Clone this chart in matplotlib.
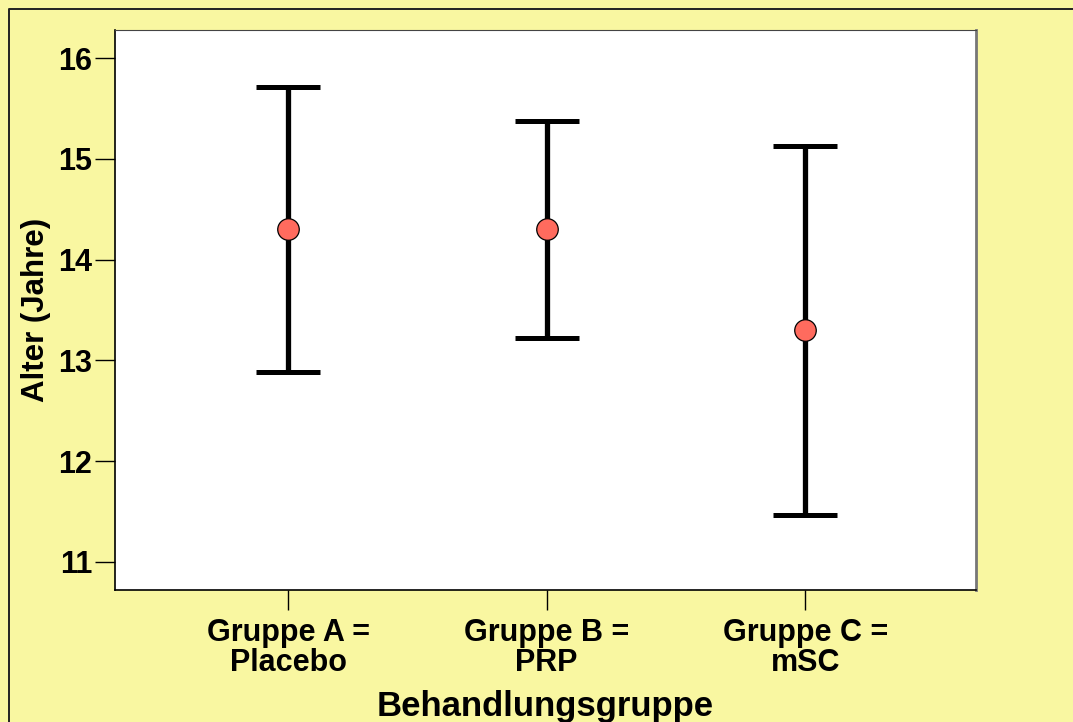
import matplotlib
matplotlib.use('Agg')
from matplotlib import pyplot as plt
from matplotlib.lines import Line2D

# data
groups = ['Gruppe A =\nPlacebo', 'Gruppe B =\nPRP', 'Gruppe C =\nmSC']
means = [14.30, 14.30, 13.30]
upper = [15.71, 15.375, 15.13]
lower = [12.885, 13.22, 11.46]

plt.rcParams['font.family'] = ['Liberation Sans', 'DejaVu Sans']
plt.rcParams['font.weight'] = 'bold'

bg = '#F9F7A1'
fig = plt.figure(figsize=(10.73, 7.22), dpi=100, facecolor=bg)
ax = fig.add_axes([115/1073, 1 - 590/722, (976-115)/1073, (590-30)/722])
ax.set_facecolor('white')

x = [1, 2, 3]
yerr = [[m - l for m, l in zip(means, lower)], [u - m for m, u in zip(means, upper)]]
ax.errorbar(x, means, yerr=yerr, fmt='none', ecolor='black', elinewidth=3.8,
            capsize=23, capthick=3.6, zorder=2)
ax.plot(x, means, 'o', markersize=15.5, markerfacecolor='#FF6B5E',
        markeredgecolor='black', markeredgewidth=0.9, zorder=3)

ax.set_xlim(0.331, 3.66)
ax.set_ylim(10.72, 16.28)
ax.set_yticks([11, 12, 13, 14, 15, 16])
ax.set_xticks(x)
ax.set_xticklabels(groups, fontsize=22, fontweight='bold', linespacing=1.0)
ax.tick_params(axis='y', labelsize=22, length=14.5, width=1, pad=2)
ax.tick_params(axis='x', length=14.5, width=1, pad=6)

ax.spines['left'].set_linewidth(1.2)
ax.spines['bottom'].set_linewidth(1.2)
ax.spines['top'].set_color('#444444')
ax.spines['right'].set_color('#777777')
ax.spines['right'].set_linewidth(2)

ax.set_ylabel('Alter (Jahre)', fontsize=22.5, fontweight='bold')
ax.set_xlabel('Behandlungsgruppe', fontsize=25, fontweight='bold', labelpad=8)
ax.yaxis.set_label_coords(-64/861, 0.5)

# outer frame of the figure (only left and top visible)
fig.add_artist(Line2D([8.5/1073, 8.5/1073, 1.0], [0.0, 1 - 8.5/722, 1 - 8.5/722],
                      transform=fig.transFigure, color='#222222', linewidth=1.4))

plt.savefig('out.png', dpi=100, facecolor=bg)
